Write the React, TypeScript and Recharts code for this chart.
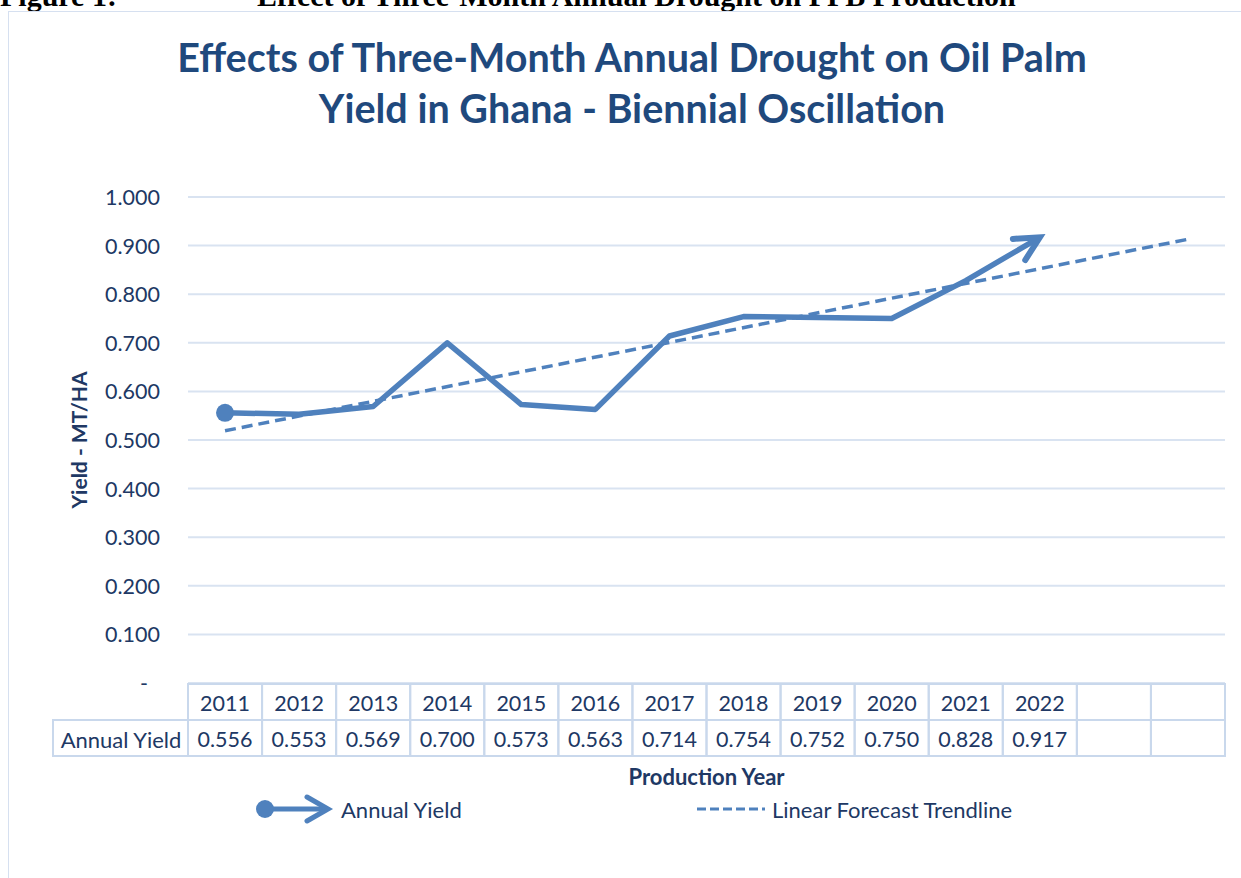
import React from "react";
import { LineChart, Line, XAxis, YAxis, CartesianGrid, Label } from "recharts";

const years = ["2011", "2012", "2013", "2014", "2015", "2016", "2017", "2018", "2019", "2020", "2021", "2022", "", ""];
const annualYield = [0.556, 0.553, 0.569, 0.7, 0.573, 0.563, 0.714, 0.754, 0.752, 0.75, 0.828, 0.917, null, null];
// trendline: start at 2011, end at last (empty) column
const trendline = [0.519, null, null, null, null, null, null, null, null, null, null, null, null, 0.913];
const yTicks = [0, 0.1, 0.2, 0.3, 0.4, 0.5, 0.6, 0.7, 0.8, 0.9, 1.0];

const data = years.map((y, i) => ({ cat: String(i), year: y, yield: annualYield[i], trend: trendline[i] }));

const W = 1241;
const H = 878;
const M = { top: 197, right: 16, bottom: 95, left: 100 };
const Y_W = 88;
const X_H = 100;
const BAND = (W - M.left - M.right - Y_W) / years.length;
const BLUE = "#4F81BD";
const TXT = "#203864";
const CELL = "#C9D8EC";
const FONT = "Lato, 'Open Sans', sans-serif";
const NUM = 21.5;
const WORD = 22;

function TableTick(props: any) {
  const { x, y, index } = props;
  const v = annualYield[index];
  const left = x - BAND / 2;
  const top = y + 1;
  return (
    <g>
      {index === 0 && (
        <g>
          <rect x={left - 135} y={top + 36} width={135} height={36} fill="none" stroke={CELL} strokeWidth={2} />
          <text x={left - 67} y={top + 55} textAnchor="middle" dominantBaseline="central" fill={TXT} fontSize={WORD} fontFamily={FONT}>
            Annual Yield
          </text>
        </g>
      )}
      <rect x={left} y={top} width={BAND} height={36} fill="none" stroke={CELL} strokeWidth={2} />
      <rect x={left} y={top + 36} width={BAND} height={36} fill="none" stroke={CELL} strokeWidth={2} />
      <text x={x} y={top + 19} textAnchor="middle" dominantBaseline="central" fill={TXT} fontSize={NUM} fontFamily={FONT}>
        {years[index]}
      </text>
      <text x={x} y={top + 55} textAnchor="middle" dominantBaseline="central" fill={TXT} fontSize={NUM} fontFamily={FONT}>
        {v == null ? "" : v.toFixed(3)}
      </text>
    </g>
  );
}

function YTick(props: any) {
  const { x, y, payload } = props;
  const v = payload.value as number;
  return (
    <text x={v === 0 ? x - 12 : x} y={y} textAnchor="end" dominantBaseline="central" fill={TXT} fontSize={NUM} fontFamily={FONT}>
      {v === 0 ? "-" : v.toFixed(3)}
    </text>
  );
}

function YieldDot(props: any) {
  const { cx, cy, index, points } = props;
  if (cx == null || cy == null) return <g key={`d${index}`} />;
  if (index === 0) return <circle key={`d${index}`} cx={cx} cy={cy} r={9} fill={BLUE} />;
  if (index === 11) {
    const prev = points && points[index - 1];
    const ang = prev ? Math.atan2(cy - prev.y, cx - prev.x) : -Math.PI / 6;
    const back = ang + Math.PI;
    const len = 27;
    const spread = (27 * Math.PI) / 180;
    const p1 = [cx + len * Math.cos(back - spread), cy + len * Math.sin(back - spread)];
    const p2 = [cx + len * Math.cos(back + spread), cy + len * Math.sin(back + spread)];
    return (
      <polyline
        key={`d${index}`}
        points={`${p1[0]},${p1[1]} ${cx},${cy} ${p2[0]},${p2[1]}`}
        fill="none"
        stroke={BLUE}
        strokeWidth={6}
        strokeLinecap="round"
        strokeLinejoin="miter"
      />
    );
  }
  return <g key={`d${index}`} />;
}

function ChartLegend() {
  return (
    <svg width={W} height={32} style={{ position: "absolute", left: 0, top: 794 }}>
      <line x1={265} y1={15} x2={326} y2={15} stroke={BLUE} strokeWidth={5} />
      <circle cx={265} cy={15} r={9} fill={BLUE} />
      <polyline points="307,3 328,15 307,27" fill="none" stroke={BLUE} strokeWidth={5} strokeLinecap="round" />
      <text x={341} y={15} dominantBaseline="central" fill={TXT} fontSize={WORD} fontFamily={FONT}>
        Annual Yield
      </text>
      <line x1={697} y1={15} x2={765} y2={15} stroke={BLUE} strokeWidth={3} strokeDasharray="9 4" />
      <text x={772} y={15} dominantBaseline="central" fill={TXT} fontSize={WORD} fontFamily={FONT}>
        Linear Forecast Trendline
      </text>
    </svg>
  );
}

export default function App() {
  const serif = "'Liberation Serif', 'Times New Roman', serif";
  return (
    <div style={{ position: "absolute", left: 0, top: 0, width: W, height: H, overflow: "hidden", background: "#fff" }}>
      <div style={{ position: "absolute", left: 0, top: -21, whiteSpace: "pre", fontFamily: serif, fontWeight: "bold", fontSize: 30, color: "#000" }}>
        Figure 1:
      </div>
      <div style={{ position: "absolute", left: 257, top: -21, whiteSpace: "pre", fontFamily: serif, fontWeight: "bold", fontSize: 30, color: "#000" }}>
        Effect of Three-Month Annual Drought on FFB Production
      </div>
      <div style={{ position: "absolute", left: 8, top: 11, width: 1300, height: 1000, border: "1.5px solid #D6E0F0" }} />
      <div
        style={{
          position: "absolute",
          left: 0,
          top: 31,
          width: 1264,
          textAlign: "center",
          fontFamily: FONT,
          fontWeight: "bold",
          fontSize: 39.5,
          lineHeight: "51px",
          color: "#1F497D",
        }}
      >
        Effects of Three-Month Annual Drought on Oil Palm
        <br />
        Yield in Ghana - Biennial Oscillation
      </div>
      <div style={{ position: "absolute", left: 0, top: 0 }}>
        <LineChart width={W} height={H} data={data} margin={M}>
          <CartesianGrid vertical={false} stroke="#D9E3F1" strokeWidth={2} />
          <XAxis
            dataKey="cat"
            axisLine={false}
            tickLine={false}
            tickSize={0}
            tickMargin={0}
            height={X_H}
            interval={0}
            padding={{ left: BAND / 2, right: BAND / 2 }}
            tick={<TableTick />}
          >
            <Label value="Production Year" position="insideBottom" offset={-2} fill={TXT} fontSize={WORD} fontWeight="bold" fontFamily={FONT} />
          </XAxis>
          <YAxis
            width={Y_W}
            domain={[0, 1]}
            ticks={yTicks}
            axisLine={false}
            tickLine={false}
            tick={<YTick />}
            tickMargin={22}
          >
            <Label
              value="Yield - MT/HA"
              angle={-90}
              position="insideLeft"
              offset={-20}
              fill={TXT}
              fontSize={21}
              fontWeight="bold"
              fontFamily={FONT}
              style={{ textAnchor: "middle" }}
            />
          </YAxis>
          <Line
            dataKey="trend"
            stroke={BLUE}
            strokeWidth={3.5}
            strokeDasharray="11 6"
            dot={false}
            connectNulls
            isAnimationActive={false}
            legendType="none"
          />
          <Line
            dataKey="yield"
            stroke={BLUE}
            strokeWidth={5.5}
            dot={YieldDot}
            activeDot={false}
            isAnimationActive={false}
            strokeLinejoin="round"
          />
        </LineChart>
      </div>
      <ChartLegend />
    </div>
  );
}
